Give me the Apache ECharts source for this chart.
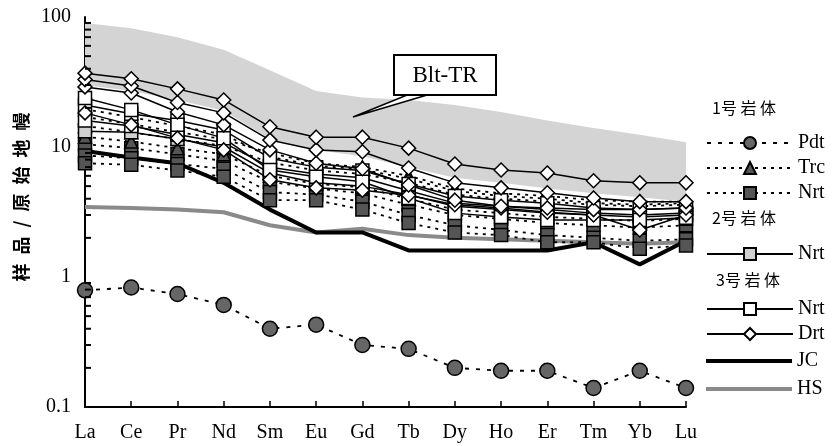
<!DOCTYPE html>
<html><head><meta charset="utf-8">
<script src="https://cdn.jsdelivr.net/npm/echarts@6/dist/echarts.min.js"></script>
<style>html,body{margin:0;padding:0;background:#fff}#c{width:836px;height:446px}</style>
</head><body><div id="c"></div>
<script>
// ---------- data ----------
const categories = ['La','Ce','Pr','Nd','Sm','Eu','Gd','Tb','Dy','Ho','Er','Tm','Yb','Lu'];
const yTickLabels = ['0.1','1','10','100'];
const minorTickValues = [0.2,0.3,0.4,0.5,0.6,0.7,0.8,0.9,2,3,4,5,6,7,8,9,20,30,40,50,60,70,80,90];

// Blt-TR range
const bltUpper = [90, 82, 70, 56, 39, 27, 24, 23, 21, 18.6, 16, 14, 12.4, 10.9];
const bltLower = [30, 27, 23, 19, 11.5, 9.5, 8.5, 7.0, 5.8, 5.3, 4.8, 4.4, 4.1, 3.8];

// 1号岩体
const pdt1 = [0.79, 0.83, 0.74, 0.61, 0.40, 0.43, 0.30, 0.28, 0.20, 0.19, 0.19, 0.14, 0.19, 0.14];
const trc1 = [17, 15, 13, 11.5, 9.0, 7.5, 7.0, 6.0, 4.8, 4.4, 4.2, 3.9, 3.8, 3.8];
const trc2 = [14.5, 13, 11.5, 10.2, 7.6, 6.6, 6.2, 5.3, 4.3, 4.0, 3.8, 3.6, 3.5, 3.6];
const trc3 = [12, 11, 9.8, 8.8, 6.0, 5.2, 4.9, 4.0, 3.3, 3.1, 2.9, 2.8, 2.7, 2.8];
const trc4 = [19.5, 17, 14.5, 12.5, 8.4, 7.2, 6.7, 5.7, 4.6, 4.2, 4.0, 3.7, 3.6, 3.7];
const nrt1a = [7.5, 7.3, 6.6, 5.9, 3.9, 3.9, 3.3, 2.6, 2.2, 2.1, 1.85, 1.85, 1.65, 1.75];
const nrt1b = [8.6, 8.2, 7.4, 6.8, 4.5, 4.3, 3.8, 3.0, 2.5, 2.3, 2.1, 2.0, 1.9, 1.95];
const nrt1c = [10.5, 9.8, 8.8, 7.8, 5.4, 4.8, 4.4, 3.6, 3.0, 2.8, 2.6, 2.5, 2.4, 2.5];
// 2号岩体
const nrt2a = [13.2, 13.0, 11.5, 10, 6.3, 5.3, 5.0, 4.3, 3.5, 3.3, 3.1, 3.0, 2.9, 3.0];
// 3号岩体
const nrt3a = [23.8, 19.3, 14.8, 11.7, 6.65, 5.9, 5.4, 4.05, 3.1, 2.9, 2.75, 2.75, 2.75, 2.85];
const nrt3b = [21, 18, 16, 13.5, 8.2, 7.0, 6.6, 5.2, 4.2, 3.9, 3.7, 3.4, 3.3, 3.4];
const nrt3c = [16, 14.5, 12.5, 10.8, 7.0, 6.2, 5.8, 4.6, 3.7, 3.5, 3.3, 3.1, 3.0, 3.1];
const drt1 = [37, 33.5, 28, 23, 14.3, 11.9, 11.9, 9.8, 7.4, 6.65, 6.3, 5.5, 5.3, 5.3];
const drt2 = [33, 29.5, 22, 18.3, 11.3, 9.5, 9.2, 6.9, 5.3, 4.85, 4.45, 4.05, 3.8, 3.8];
const drt3 = [29, 26, 18.6, 14.8, 9.5, 7.5, 6.8, 5.1, 3.9, 3.5, 3.4, 3.3, 3.3, 3.4];
const drt4 = [18.3, 14.8, 11.7, 9.5, 5.6, 4.85, 4.65, 4.25, 3.6, 3.4, 3.15, 3.0, 2.3, 3.0];
// reference curves
const jc = [9.3, 8.3, 7.5, 5.3, 3.3, 2.2, 2.2, 1.6, 1.6, 1.6, 1.6, 1.85, 1.25, 1.9];
const hs = [3.45, 3.4, 3.3, 3.15, 2.5, 2.2, 2.35, 2.1, 2.0, 1.95, 1.9, 1.85, 1.8, 1.85];

// ---------- styles ----------
const SERIF = '"Liberation Serif", "Times New Roman", serif';
const CJK = '"Noto Sans CJK SC", sans-serif';
const solidLine = {color:'#000', width:1.5, type:'solid'};
const dotLine = {color:'#000', width:1.8, type:[3,5]};

function ser(name, data, symbol, size, fill, line, z) {
  return {
    type:'line', name, data, symbol, symbolSize:size, showSymbol:true,
    lineStyle: line, itemStyle:{color:fill, borderColor:'#000', borderWidth:1.5},
    emphasis:{disabled:true}, z: z||3
  };
}

const bltDiff = bltUpper.map((v,i)=>v - bltLower[i]);

const series = [
  {type:'line', name:'bltLow', data:bltLower, stack:'blt', symbol:'none', lineStyle:{width:0, opacity:0}, silent:true, z:1},
  {type:'line', name:'Blt-TR', data:bltDiff, stack:'blt', symbol:'none', lineStyle:{width:0, opacity:0},
    areaStyle:{color:'#d4d4d4', opacity:1}, silent:true, z:1},
  {type:'line', name:'HS', data:hs, symbol:'none', lineStyle:{color:'#8a8a8a', width:4}, itemStyle:{color:'#8a8a8a'}, z:2},
  {type:'line', name:'JC', data:jc, symbol:'none', lineStyle:{color:'#000', width:4}, itemStyle:{color:'#000'}, z:2},
  ser('1号岩体 Nrt', nrt1c, 'rect', 13, '#555', dotLine),
  ser('1号岩体 Nrt', nrt1b, 'rect', 13, '#555', dotLine),
  ser('1号岩体 Nrt', nrt1a, 'rect', 13, '#555', dotLine),
  ser('1号岩体 Trc', trc3, 'triangle', 13, '#555', dotLine),
  ser('1号岩体 Trc', trc2, 'triangle', 13, '#555', dotLine),
  ser('1号岩体 Trc', trc1, 'triangle', 13, '#555', dotLine),
  ser('1号岩体 Trc', trc4, 'triangle', 13, '#555', dotLine),
  ser('1号岩体 Pdt', pdt1, 'circle', 15, '#666', {color:'#000', width:1.8, type:[4,7]}),
  ser('2号岩体 Nrt', nrt2a, 'rect', 13, '#d0d0d0', solidLine),
  ser('3号岩体 Nrt', nrt3c, 'rect', 13, '#fff', solidLine),
  ser('3号岩体 Nrt', nrt3b, 'rect', 13, '#fff', solidLine),
  ser('3号岩体 Nrt', nrt3a, 'rect', 13, '#fff', solidLine),
  ser('3号岩体 Drt', drt4, 'diamond', 14, '#fff', solidLine),
  ser('3号岩体 Drt', drt3, 'diamond', 14, '#fff', solidLine),
  ser('3号岩体 Drt', drt2, 'diamond', 14, '#fff', solidLine),
  ser('3号岩体 Drt', drt1, 'diamond', 14, '#fff', solidLine),
  {type:'line', name:'minorTicks', data:minorTickValues.map(v=>[0, v]), symbol:'rect', showSymbol:true,
    symbolSize:[6,2], symbolOffset:[3,0], lineStyle:{width:0, opacity:0},
    itemStyle:{color:'#000', borderWidth:0}, silent:true, clip:false, z:6, emphasis:{disabled:true}}
];

const legendText = {fontFamily:SERIF, fontSize:20, color:'#000'};
const fmt = n => n.indexOf(' ')>=0 ? n.split(' ')[1] : n;
const legendBase = {orient:'vertical', left:706, itemWidth:86, itemHeight:15, itemGap:5,
  textStyle:legendText, formatter:fmt, selectedMode:false, padding:0};

const option = {
  animation:false,
  backgroundColor:'#fff',
  grid:{left:85, right:150, top:17, bottom:39},
  xAxis:{type:'category', data:categories, boundaryGap:false,
    axisLine:{lineStyle:{color:'#000', width:2}},
    axisTick:{inside:true, length:6, lineStyle:{color:'#000', width:1.5}},
    axisLabel:{fontFamily:SERIF, fontSize:20, color:'#000', margin:16},
    splitLine:{show:false}},
  yAxis:{type:'log', logBase:10, min:0.1, max:100,
    name:'样\u2002品\u2002/\u2002原\u2002始\u2002地\u2002幔', nameLocation:'middle', nameGap:50, nameRotate:90,
    nameTextStyle:{fontFamily:CJK, fontSize:18, fontWeight:'bold', color:'#000', padding:[0,0,0,30]},
    axisLine:{show:true, lineStyle:{color:'#000', width:2}},
    axisTick:{inside:true, length:8, lineStyle:{color:'#000', width:2}},
    axisLabel:{fontFamily:SERIF, fontSize:20, color:'#000', margin:14,
      formatter:v=>{const s=yTickLabels.find(t=>Math.abs(parseFloat(t)-v)<1e-9*Math.max(1,v)); return s||'';}},
    splitLine:{show:false}, minorTick:{show:false}},
  legend:[
    Object.assign({}, legendBase, {top:133, data:['1号岩体 Pdt','1号岩体 Trc','1号岩体 Nrt']}),
    Object.assign({}, legendBase, {top:244, data:['2号岩体 Nrt']}),
    Object.assign({}, legendBase, {top:299, data:['3号岩体 Nrt','3号岩体 Drt']}),
    Object.assign({}, legendBase, {top:351, itemHeight:4, itemGap:8,
      data:[{name:'JC', icon:'rect', itemStyle:{color:'#000'}}, {name:'HS', icon:'rect', itemStyle:{color:'#8a8a8a'}}]})
  ],
  graphic:[
    {type:'text', left:712, top:100, style:{text:'1号 岩 体', fontFamily:CJK, fontSize:16, fill:'#000'}},
    {type:'text', left:712, top:210, style:{text:'2号 岩 体', fontFamily:CJK, fontSize:16, fill:'#000'}},
    {type:'text', left:716, top:272, style:{text:'3号 岩 体', fontFamily:CJK, fontSize:16, fill:'#000'}},
    {type:'polygon', shape:{points:[[412,93],[434,93],[353,117]]}, style:{fill:'#fff', stroke:'#000', lineWidth:1.5}, z:10},
    {type:'rect', shape:{x:394, y:55, width:102, height:40}, style:{fill:'#fff', stroke:'#000', lineWidth:2}, z:11},
    {type:'text', x:445, y:76, style:{text:'Blt-TR', fontFamily:SERIF, fontSize:23, fill:'#000', align:'center', verticalAlign:'middle'}, z:12}
  ],
  series
};

const chart = echarts.init(document.getElementById('c'), null, {renderer:'canvas'});
chart.setOption(option);
</script>
</body></html>
